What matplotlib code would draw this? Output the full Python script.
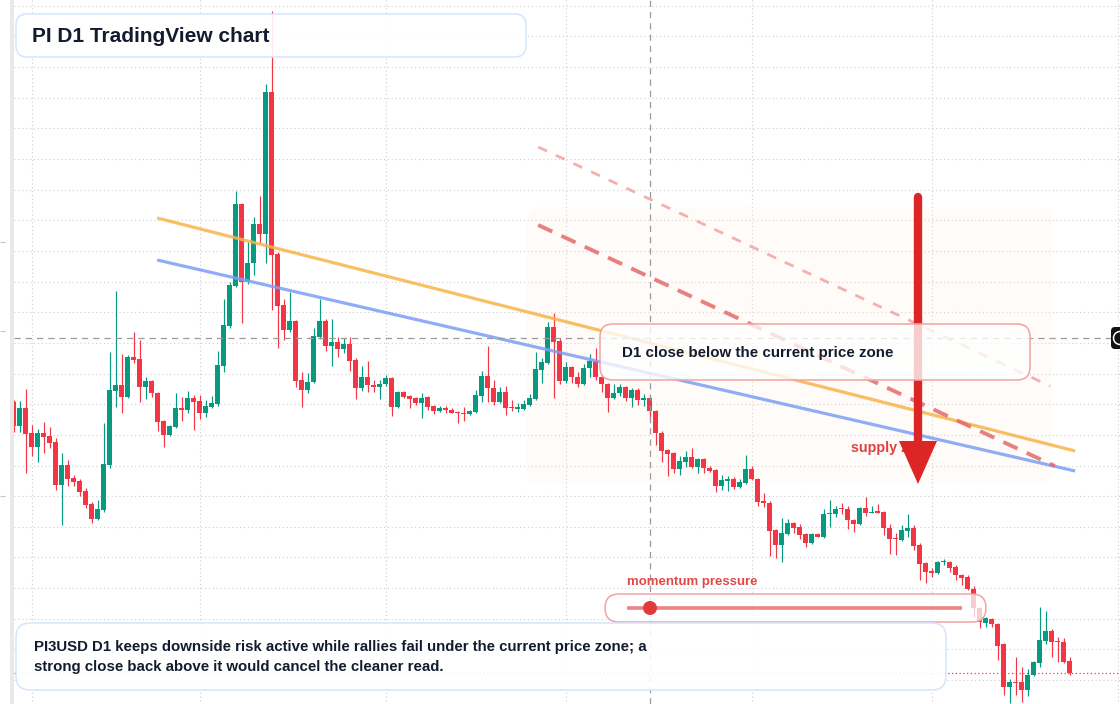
import numpy as np
import pandas as pd
import matplotlib.pyplot as plt
from matplotlib.patches import FancyBboxPatch, Polygon, Circle, Rectangle

W, H, DPI = 1120, 704, 100

# PI3USD daily candles starting 2025-01-29, prices in thousandths of a dollar
opens = np.array([
    548, 524, 542, 517, 503, 517, 514, 508, 465, 485, 472, 469, 459, 446, 431, 440, 485, 559, 565, 553,
    593, 591, 563, 569, 557, 529, 515, 523, 542, 540, 552, 549, 537, 543, 546, 584, 624, 664, 746, 668,
    687, 726, 716, 858, 696, 645, 620, 629, 570, 560, 568, 613, 629, 604, 608, 601, 606, 590, 562, 573,
    565, 563, 566, 572, 543, 558, 554, 552, 547, 553, 544, 539, 542, 540, 538, 537, 536, 538, 554, 574,
    562, 548, 558, 543, 541, 541, 545, 551, 580, 587, 623, 609, 569, 583, 573, 566, 582, 589, 573, 566,
    552, 557, 563, 552, 560, 550, 552, 539, 517, 500, 497, 481, 488, 493, 483, 491, 482, 480, 464, 469,
    471, 463, 467, 481, 471, 449, 447, 420, 405, 416, 427, 423, 416, 407, 416, 413, 436, 436, 442, 441,
    430, 426, 442, 437, 439, 438, 422, 412, 410, 419, 422, 405, 387, 379, 377, 388, 388, 383, 375, 373,
    361, 342, 327, 331, 326, 306, 263, 268, 268, 260, 275, 287, 309, 319, 309, 308, 289]) / 1000
highs = np.array([
    550, 549, 561, 525, 521, 528, 523, 512, 497, 490, 475, 471, 462, 448, 450, 527, 598, 659, 596, 595,
    618, 610, 573, 570, 558, 530, 525, 557, 553, 559, 555, 555, 550, 554, 599, 651, 668, 759, 747, 708,
    733, 754, 866, 939, 698, 651, 658, 630, 578, 577, 622, 651, 631, 631, 613, 612, 613, 592, 584, 589,
    570, 570, 575, 573, 559, 559, 555, 553, 557, 554, 545, 544, 544, 542, 539, 543, 540, 560, 579, 604,
    570, 563, 564, 550, 547, 550, 556, 598, 592, 628, 637, 612, 588, 584, 578, 586, 596, 602, 574, 567,
    566, 566, 564, 562, 562, 556, 555, 540, 519, 501, 498, 494, 499, 502, 492, 492, 484, 481, 475, 474,
    473, 471, 495, 484, 472, 457, 449, 421, 432, 431, 428, 426, 417, 417, 417, 441, 450, 444, 447, 444,
    431, 443, 453, 444, 446, 439, 426, 417, 425, 436, 425, 407, 388, 382, 389, 391, 389, 385, 376, 375,
    364, 343, 333, 332, 327, 307, 271, 293, 283, 281, 289, 343, 339, 321, 313, 312, 293]) / 1000
lows = np.array([
    518, 518, 477, 494, 488, 497, 502, 460, 425, 464, 464, 454, 442, 427, 430, 438, 482, 543, 537, 552,
    587, 548, 551, 553, 519, 503, 514, 522, 529, 537, 520, 531, 533, 542, 544, 578, 622, 663, 627, 666,
    675, 707, 687, 640, 602, 610, 618, 563, 543, 557, 567, 611, 599, 584, 593, 597, 579, 551, 559, 558,
    558, 551, 564, 534, 542, 552, 542, 545, 532, 540, 536, 538, 537, 537, 527, 529, 535, 537, 548, 548,
    545, 547, 535, 539, 538, 540, 544, 550, 567, 586, 552, 566, 567, 567, 563, 565, 573, 570, 558, 538,
    551, 554, 549, 543, 545, 544, 530, 505, 488, 474, 477, 475, 483, 482, 477, 477, 478, 458, 460, 459,
    461, 462, 466, 470, 444, 443, 394, 392, 388, 415, 417, 411, 403, 406, 413, 412, 423, 433, 436, 421,
    418, 425, 434, 437, 437, 415, 396, 395, 409, 413, 400, 370, 367, 373, 376, 385, 378, 370, 365, 360,
    333, 322, 323, 323, 290, 255, 247, 255, 248, 254, 274, 283, 306, 293, 288, 287, 275]) / 1000
closes = np.array([
    524, 542, 516, 503, 517, 513, 507, 465, 485, 471, 468, 458, 445, 431, 441, 486, 560, 565, 553, 593,
    590, 563, 569, 557, 528, 515, 524, 542, 540, 552, 548, 537, 544, 547, 585, 625, 665, 746, 668, 687,
    726, 716, 858, 695, 644, 620, 629, 569, 560, 568, 614, 629, 604, 608, 601, 606, 589, 562, 573, 565,
    563, 566, 572, 543, 558, 553, 551, 547, 552, 543, 539, 542, 540, 537, 537, 536, 539, 555, 574, 562,
    548, 558, 542, 542, 543, 546, 552, 581, 588, 623, 608, 569, 583, 573, 566, 582, 589, 573, 566, 552,
    557, 563, 552, 560, 550, 552, 539, 517, 499, 496, 481, 489, 493, 483, 491, 482, 479, 464, 470, 471,
    463, 468, 481, 471, 448, 447, 419, 405, 417, 427, 422, 415, 407, 416, 413, 436, 437, 441, 441, 430,
    426, 442, 437, 438, 437, 422, 411, 411, 420, 422, 404, 386, 378, 377, 388, 389, 382, 375, 372, 361,
    342, 328, 332, 326, 304, 263, 268, 267, 260, 275, 288, 310, 319, 308, 308, 288, 277]) / 1000

dates = pd.date_range('2025-01-29', periods=len(opens), freq='D')
xs = np.arange(len(opens))

# drawn levels (index, price)
orange_line = ([23.9, 176.9], [0.732, 0.499])
blue_line = ([23.9, 176.9], [0.690, 0.479])
red_dash = ([87.4, 173.5], [0.725, 0.484])
red_dash_light = ([87.4, 172.7], [0.803, 0.564])
zone_x = (85.5, 173.0)
zone_p = (0.466, 0.743)
cross_x, cross_p = 106, 0.612

GREEN, RED = '#089981', '#f23645'
FONT = ['Liberation Sans', 'DejaVu Sans']
DARK = '#131b2e'

fig = plt.figure(figsize=(W / DPI, H / DPI), dpi=DPI)
fig.patch.set_facecolor('white')
ax = fig.add_axes([14 / W, 0, (W - 14) / W, 1])
ax.set_xlim(0.033, 184.37)
ax.set_ylim(0.246, 0.95)
ax.axis('off')

# grid: price levels and month starts
levels = np.arange(0.9444, 0.25, -0.03066)
ax.hlines(levels, 0, 190, colors='#cfcfcf', lw=0.8, linestyles=(0, (1, 2.5)), zorder=0)
all_days = pd.date_range('2025-01-29', periods=186, freq='D')
month_idx = np.where(all_days.day == 1)[0]
ax.vlines(month_idx, 0.2, 1.0, colors='#cfcfcf', lw=0.8, linestyles=(0, (1, 2.5)), zorder=0)

# faint supply zone
zone = FancyBboxPatch((zone_x[0], zone_p[0]), zone_x[1] - zone_x[0], zone_p[1] - zone_p[0],
                      boxstyle='round,pad=0,rounding_size=2.5', mutation_aspect=0.006,
                      fc='#fbeee2', ec='none', alpha=0.22, zorder=0.5)
ax.add_patch(zone)

# candles
up = closes >= opens
cols = np.where(up, GREEN, RED)
ax.vlines(xs, lows, highs, colors=cols, lw=0.85, zorder=2)
body_low = np.minimum(opens, closes)
body_h = np.maximum(np.abs(closes - opens), 0.0012)
ax.bar(xs, body_h, bottom=body_low, width=0.78, color=cols, lw=0, zorder=3)

# trend lines
ax.plot(*orange_line, color='#f7b448', lw=2.3, alpha=0.85, solid_capstyle='butt', zorder=4)
ax.plot(*blue_line, color='#7c9ff5', lw=2.3, alpha=0.85, solid_capstyle='butt', zorder=4)
ax.plot(*red_dash, color='#e46a6a', lw=2.8, alpha=0.85, dashes=(4, 2.6), zorder=4)
ax.plot(*red_dash_light, color='#f2a3a3', lw=2.0, alpha=0.85, dashes=(3.5, 3.5), zorder=4)

# crosshair and last price
ax.axhline(cross_p, color='#9a9a9a', lw=0.9, dashes=(5, 4), zorder=4.5)
ax.axvline(cross_x, color='#9a9a9a', lw=0.9, dashes=(5, 4), zorder=4.5)
ax.axhline(closes[-1], color=RED, lw=0.9, linestyle=(0, (1, 2)), zorder=4.5)

# overlay in pixel units for notes and boxes
ov = fig.add_axes([0, 0, 1, 1])
ov.set_xlim(0, W)
ov.set_ylim(H, 0)
ov.axis('off')
ov.set_zorder(5)
ov.patch.set_visible(False)

ov.add_patch(Rectangle((10, 0), 4, H, fc='#e9e9e9', ec='none'))
ov.hlines([242, 331, 496], 0, 5, colors='#c4c4c4', lw=0.8)

# arrow + label
ov.text(851, 448, 'supply zone', color='#e04040', fontsize=10.3, fontweight='bold',
        family=FONT, va='center', ha='left', zorder=1)
ov.plot([918, 918], [197, 446], color='#dc2626', lw=6, solid_capstyle='round', zorder=2)
ov.add_patch(Polygon([(899, 441), (937, 441), (918, 484)], closed=True, fc='#dc2626', ec='none', zorder=2))


def box(x, y, w, h, r, ec, alpha):
    p = FancyBboxPatch((x, y), w, h, boxstyle=f'round,pad=0,rounding_size={r}',
                       fc='white', ec='none', alpha=alpha, zorder=3)
    ov.add_patch(p)
    ov.add_patch(FancyBboxPatch((x, y), w, h, boxstyle=f'round,pad=0,rounding_size={r}',
                                fc='none', ec=ec, lw=1.1, zorder=3.1))


# title
box(16, 14, 510, 43, 11, '#d6e4fb', 0.9)
ov.text(32, 36.5, 'PI D1 TradingView chart', color=DARK, fontsize=15, fontweight='bold',
        family=FONT, va='center', ha='left', zorder=4)

# condition box
box(600, 324, 430, 56, 13, '#f0a3a3', 0.78)
ov.text(622, 353.5, 'D1 close below the current price zone', color=DARK, fontsize=10.9,
        fontweight='bold', family=FONT, va='center', ha='left', zorder=4)

# momentum gauge
ov.text(627, 582, 'momentum pressure', color='#e04848', fontsize=9.5, fontweight='bold',
        family=FONT, va='center', ha='left', zorder=4)
box(605, 594, 381, 28, 14, '#f0a3a3', 0.75)
ov.plot([627, 962], [608, 608], color='#ee8585', lw=2.6, solid_capstyle='butt', zorder=4)
ov.add_patch(Circle((650, 608), 7, fc='#e03a3a', ec='none', zorder=4.5))

# summary box
box(16, 623, 930, 67, 14, '#d6e4fb', 0.9)
ov.text(34, 647, 'PI3USD D1 keeps downside risk active while rallies fail under the current price zone; a',
        color=DARK, fontsize=10.8, fontweight='bold', family=FONT, va='center', ha='left', zorder=4)
ov.text(34, 667.5, 'strong close back above it would cancel the cleaner read.',
        color=DARK, fontsize=10.8, fontweight='bold', family=FONT, va='center', ha='left', zorder=4)

# scroll button at right edge
ov.add_patch(FancyBboxPatch((1111, 327), 16, 22, boxstyle='round,pad=0,rounding_size=4',
                            fc='#131313', ec='none', zorder=4))
ov.add_patch(Circle((1120, 338), 6.5, fill=False, ec='white', lw=1.1, zorder=4.5))

fig.savefig('out.png', dpi=DPI)
